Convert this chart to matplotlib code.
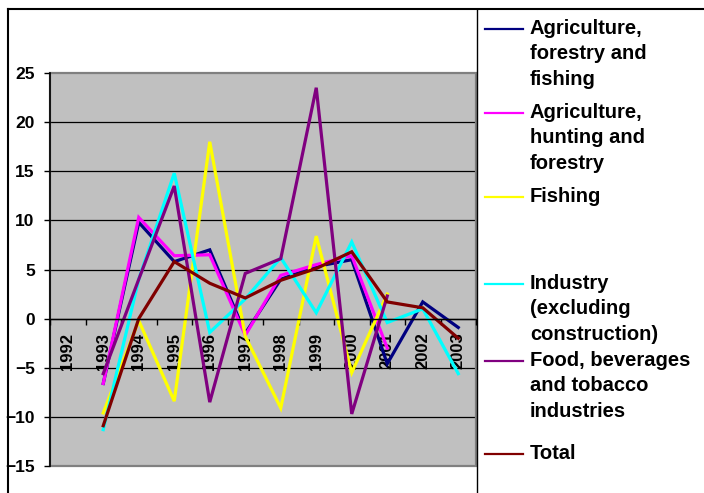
import numpy as np
import matplotlib
matplotlib.use("Agg")
import matplotlib.pyplot as plt
from matplotlib.lines import Line2D
from matplotlib.patches import Rectangle

plt.rcParams['font.family'] = ['Liberation Sans', 'DejaVu Sans']
plt.rcParams['font.weight'] = 'bold'

nan = np.nan
years = ["1992", "1993", "1994", "1995", "1996", "1997",
         "1998", "1999", "2000", "2001", "2002", "2003"]

agri_forestry_fishing = [nan, -6.6, 9.8, 5.8, 7.0, -1.5, 4.0, 5.3, 6.0, -4.6, 1.7, -0.9]
agri_hunting_forestry = [nan, -6.6, 10.3, 6.4, 6.5, -1.7, 4.4, 5.5, 6.4, -3.0, nan, nan]
fishing = [nan, -9.6, -0.2, -8.4, 18.0, -1.8, -9.1, 8.4, -5.5, 2.5, nan, nan]
industry = [nan, -11.3, 4.0, 14.8, -1.4, 2.0, 6.2, 0.6, 7.8, -0.4, 1.0, -5.6]
food_bev_tobacco = [nan, -5.6, 4.0, 13.5, -8.5, 4.6, 6.1, 23.5, -9.7, 2.3, nan, nan]
total = [nan, -10.9, 0.0, 5.8, 3.6, 2.1, 3.9, 5.1, 6.8, 1.7, 1.1, -2.0]

series = [
    ("Agriculture,\nforestry and\nfishing", agri_forestry_fishing, "#000080"),
    ("Agriculture,\nhunting and\nforestry", agri_hunting_forestry, "#FF00FF"),
    ("Fishing", fishing, "#FFFF00"),
    ("Industry\n(excluding\nconstruction)", industry, "#00FFFF"),
    ("Food, beverages\nand tobacco\nindustries", food_bev_tobacco, "#800080"),
    ("Total", total, "#800000"),
]
# first-line centre of each legend entry, in pixels from the top
legend_rows = [29, 113, 197, 284, 361, 454]

W, H = 704, 493
fig = plt.figure(figsize=(W / 100, H / 100), dpi=100)
ax = fig.add_axes([50 / W, 1 - 466 / H, 426 / W, 393 / H])
ax.set_facecolor("#C0C0C0")

x = np.arange(len(years))
for label, vals, col in series:
    ax.plot(x, vals, color=col, lw=2.3, solid_joinstyle="miter")

ax.set_xlim(-0.5, len(years) - 0.5)
ax.set_ylim(-15, 25)
ax.set_yticks(np.arange(-15, 26, 5))
ax.tick_params(axis="y", direction="out", length=4, width=1, pad=7, labelsize=12.5)
for y in range(-10, 25, 5):
    ax.axhline(y, color="black", lw=0.9, zorder=0.5)

# category axis sits on the zero line
ax.spines["bottom"].set_position(("data", 0))
ax.spines["bottom"].set_linewidth(1)
ax.set_xticks(np.arange(-0.5, len(years), 1.0))
ax.set_xticklabels([])
ax.set_xticks(x, minor=True)
ax.set_xticklabels(years, minor=True, rotation=90, va="top", ha="center", fontsize=12)
ax.tick_params(axis="x", which="major", direction="out", length=4, width=1)
ax.tick_params(axis="x", which="minor", length=0, pad=10)

for s in ["top", "right"]:
    ax.spines[s].set_visible(False)
ax.spines["left"].set_linewidth(1.2)
ax.add_patch(Rectangle((0, 0), 1, 1, transform=ax.transAxes, fill=False,
                       edgecolor="#808080", lw=1.6, clip_on=False, zorder=0.6))

# chart frame and legend box
px = lambda v: v / W
py = lambda v: 1 - v / H
fig.add_artist(Line2D([px(8), px(8)], [py(9), 0], color="black", lw=1.5))
fig.add_artist(Line2D([px(8), 1], [py(9), py(9)], color="black", lw=1.5))
fig.add_artist(Line2D([px(477), px(477)], [py(9), 0], color="black", lw=1.0))

for (label, vals, col), row in zip(series, legend_rows):
    fig.add_artist(Line2D([px(485), px(523)], [py(row), py(row)], color=col, lw=1.6))
    fig.text(px(530), py(row - 10), label, ha="left", va="top",
             fontsize=14.5, fontweight="bold", linespacing=1.42)

fig.savefig("out.png", dpi=100)
